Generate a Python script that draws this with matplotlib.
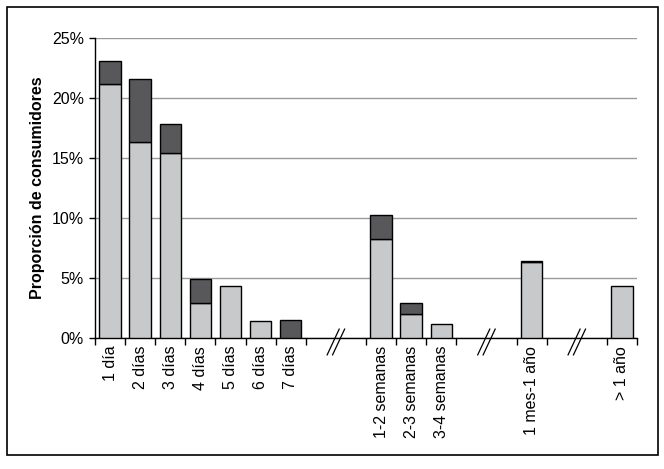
import matplotlib
matplotlib.use("Agg")
import matplotlib.pyplot as plt
from matplotlib.patches import Rectangle
from matplotlib.ticker import PercentFormatter

plt.rcParams['font.family'] = ['Liberation Sans', 'DejaVu Sans']

categories = ['1 día', '2 días', '3 días', '4 días', '5 días', '6 días', '7 días',
              '1-2 semanas', '2-3 semanas', '3-4 semanas', '1 mes-1 año', '> 1 año']
light_vals = [21.2, 16.3, 15.4, 2.9, 4.3, 1.4, 0.0, 8.25, 1.95, 1.1, 6.3, 4.3]
dark_vals = [1.9, 5.3, 2.4, 1.95, 0.0, 0.0, 1.5, 1.95, 0.95, 0.0, 0.1, 0.0]

# slot layout: 2-slot gaps with break marks between the groups
positions = [0, 1, 2, 3, 4, 5, 6, 9, 10, 11, 14, 17]
breaks = [7.5, 12.5, 15.5]

LIGHT = '#c8c9cb'
DARK = '#58585a'
W = 0.71

fig = plt.figure(figsize=(6.64, 4.69), dpi=100)
ax = fig.add_axes([95 / 664, 1 - 337.5 / 469, 542 / 664, 299.5 / 469])

for x, lo, hi in zip(positions, light_vals, dark_vals):
    if lo > 0:
        ax.bar(x, lo, width=W, color=LIGHT, edgecolor='black', linewidth=1.0, zorder=3)
    if hi > 0:
        ax.bar(x, hi, bottom=lo, width=W, color=DARK, edgecolor='black', linewidth=1.0, zorder=3)

ax.set_xlim(-0.5, 17.5)
ax.set_ylim(0, 25)
ax.set_yticks([0, 5, 10, 15, 20, 25])
ax.yaxis.set_major_formatter(PercentFormatter(decimals=0))
ax.yaxis.grid(True, color='#9a9a9a', linewidth=1.0, zorder=0)
ax.set_axisbelow(True)

for s in ['top', 'right']:
    ax.spines[s].set_visible(False)
for s in ['left', 'bottom']:
    ax.spines[s].set_linewidth(1.0)

# tick marks on slot boundaries (none inside the gaps), labels at bar centres
bounds = []
for x in positions:
    for b in (x - 0.5, x + 0.5):
        if b not in bounds:
            bounds.append(b)
ax.set_xticks(bounds)
ax.set_xticklabels([])
ax.set_xticks(positions, minor=True)
ax.set_xticklabels(categories, minor=True, rotation=90, fontsize=11.5)
ax.tick_params(axis='x', which='major', direction='out', length=5, width=1)
ax.tick_params(axis='x', which='minor', length=0, pad=6)
ax.tick_params(axis='y', direction='out', length=4, width=1, labelsize=11.5, pad=4)

ax.set_ylabel('Proporción de consumidores', fontsize=11.5, fontweight='bold', labelpad=5)

# break marks //
for b in breaks:
    for dx in (-0.09, 0.09):
        ax.plot([b + dx - 0.2, b + dx + 0.2], [-1.45, 0.7], color='black',
                linewidth=0.9, clip_on=False, zorder=5)

fig.add_artist(Rectangle((6.5 / 664, 1 - 455 / 469), 651 / 664, 448 / 469,
                         transform=fig.transFigure, fill=False,
                         edgecolor='black', linewidth=1.2))

fig.savefig('out.png', dpi=100)
